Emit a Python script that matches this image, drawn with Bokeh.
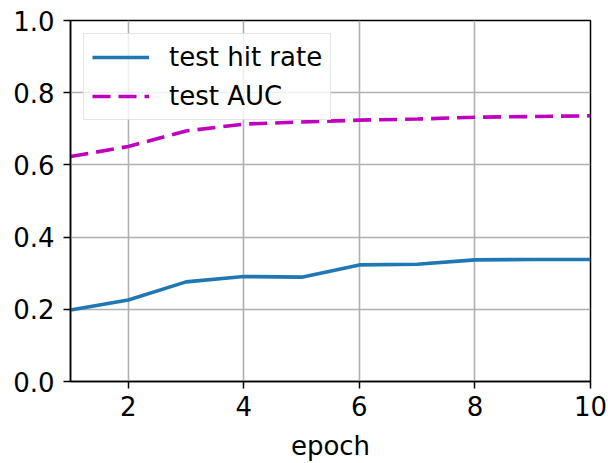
from bokeh.plotting import figure
from bokeh.models import Range1d, FixedTicker, CustomJSTickFormatter, Legend, LegendItem
from bokeh.embed import file_html
from bokeh.resources import INLINE

epochs = [1, 2, 3, 4, 5, 6, 7, 8, 9, 10]
hit_rate = [0.198, 0.226, 0.276, 0.291, 0.289, 0.323, 0.325, 0.337, 0.338, 0.338]
auc = [0.623, 0.651, 0.694, 0.713, 0.719, 0.724, 0.727, 0.732, 0.734, 0.736]
x_ticks = [2, 4, 6, 8, 10]
y_ticks = [0.0, 0.2, 0.4, 0.6, 0.8, 1.0]

FONT = "DejaVu Sans"
FS = "26px"

p = figure(width=608, height=463, output_backend="svg", toolbar_location=None,
           x_range=Range1d(1, 10), y_range=Range1d(0, 1),
           min_border_left=70, min_border_top=20, min_border_right=18, min_border_bottom=80)

p.xaxis.ticker = FixedTicker(ticks=x_ticks)
p.yaxis.ticker = FixedTicker(ticks=y_ticks)
p.yaxis.formatter = CustomJSTickFormatter(code="return tick.toFixed(1);")
p.xaxis.axis_label = "epoch"

for ax in (p.xaxis[0], p.yaxis[0]):
    ax.axis_line_color = "black"
    ax.axis_line_width = 1.5
    ax.major_tick_line_color = "black"
    ax.major_tick_line_width = 1.5
    ax.major_tick_out = 7
    ax.major_tick_in = 0
    ax.minor_tick_line_color = None
    ax.major_label_text_font = FONT
    ax.major_label_text_font_size = FS
    ax.major_label_text_color = "black"
    ax.axis_label_text_font = FONT
    ax.axis_label_text_font_size = FS
    ax.axis_label_text_font_style = "normal"
    ax.axis_label_text_color = "black"
p.xaxis.major_label_standoff = 7
p.yaxis.major_label_standoff = 9
p.xaxis.axis_label_standoff = 12

p.grid.grid_line_color = "#b0b0b0"
p.grid.grid_line_width = 1.6
p.outline_line_color = "black"
p.outline_line_width = 1.5
p.outline_line_alpha = 1

r1 = p.line(epochs, hit_rate, line_color="#1f77b4", line_width=3.6)
r2 = p.line(epochs, auc, line_color="#bf00bf", line_width=3.6, line_dash="18 8")

legend = Legend(items=[LegendItem(label="test hit rate", renderers=[r1]),
                       LegendItem(label="test AUC", renderers=[r2])],
                location="top_left")
legend.margin = 13
legend.padding = 8
legend.spacing = 9
legend.glyph_width = 57
legend.glyph_height = 30
legend.label_height = 30
legend.label_standoff = 20
legend.label_text_font = FONT
legend.label_text_font_size = FS
legend.label_text_color = "black"
legend.border_line_color = "#cccccc"
legend.border_line_width = 1.5
legend.background_fill_alpha = 0.8
p.add_layout(legend)

open("out.html", "w").write(file_html(p, INLINE))
